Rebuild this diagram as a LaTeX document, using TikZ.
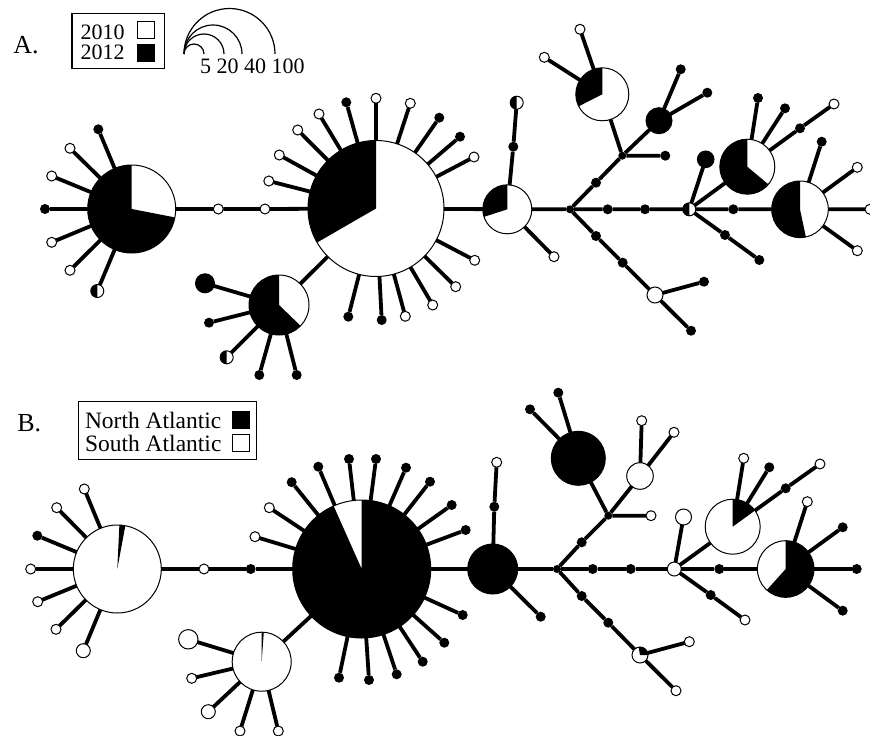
\documentclass[tikz,border=0pt]{standalone}
\usepackage{fontspec}
\setmainfont{Liberation Serif}
\newcommand\myLegFont{\fontsize{22}{24}\selectfont}
\newcommand\myLegFontB{\fontsize{23.5}{26}\selectfont}
\newcommand\myPanFont{\fontsize{26}{30}\selectfont}
\begin{document}
\begin{tikzpicture}[x=1pt,y=-1pt,
  edge/.style={line width=3.8pt},
  bd/.style={circle, fill=black, minimum size=10pt, inner sep=0pt, outer sep=0pt},
  jd/.style={circle, fill=black, minimum size=8pt, inner sep=0pt, outer sep=0pt},
  wd/.style={circle, draw=black, fill=white, line width=1pt, minimum size=10pt, inner sep=0pt, outer sep=0pt},
  hub/.style={circle, draw=black, fill=white, line width=1pt, inner sep=0pt, outer sep=0pt, minimum size=#1},
  bhub/.style={circle, draw=black, fill=black, line width=1pt, inner sep=0pt, outer sep=0pt, minimum size=#1},
  wedge/.style 2 args={path picture={\fill[black] (path picture bounding box.center) -- ++(#1:300pt) arc[start angle=#1, end angle=#2, radius=300pt] -- cycle;}},
  hd/.style={hub=13pt, wedge={90}{270}},
  txt/.style={inner sep=0pt, outer sep=0pt, anchor=base west},
  sq/.style={rectangle, draw=black, line width=1pt, minimum size=17pt, inner sep=0pt}
]
\useasboundingbox (0,0) rectangle (870,736);

% ================= Panel A legend =================
\node[txt, font=\myPanFont] (lblA) at (13.3,53.3) {A.};
\node[rectangle, draw=black, line width=1.2pt, minimum width=92.5pt, minimum height=55pt, inner sep=0pt] (legA) at (118.3,40.8) {};
\node[txt, font=\myLegFont] (y2010) at (80.5,39) {2010};
\node[txt, font=\myLegFont] (y2012) at (80.5,59.5) {2012};
\node[sq, fill=white] (sq2010) at (146.2,30.3) {};
\node[sq, fill=black] (sq2012) at (146.2,53.3) {};
\draw[line width=1.2pt] (184,54) arc[start angle=180, end angle=0, radius=10pt];
\draw[line width=1.2pt] (184,54) arc[start angle=180, end angle=0, radius=20pt];
\draw[line width=1.2pt] (184,54) arc[start angle=180, end angle=0, radius=29pt];
\draw[line width=1.2pt] (184,54) arc[start angle=180, end angle=0, radius=45.5pt];
\node[txt, font=\myLegFont] (sizes) at (200,73.3) {5 20 40 100};

% ================= Panel A nodes =================
\node[hub=88pt, wedge={90}{349}] (a1) at (131.7,209) {};
\node[hub=136pt, wedge={90}{210}] (a2) at (376,208.5) {};
\node[hub=60pt, wedge={90}{316}] (a3) at (279,305) {};
\node[hub=49pt, wedge={90}{198}] (a4) at (507.3,209.3) {};
\node[hub=53pt, wedge={90}{207}] (a5) at (602.3,94.3) {};
\node[bhub=26pt] (a6) at (659,120.7) {};
\node[hub=56.6pt, wedge={90}{282}] (a7) at (800,209.3) {};
\node[hub=55pt, wedge={90}{320}] (a8) at (747.3,166.7) {};
\node[bhub=16.6pt] (a9) at (705.7,159.3) {};
\node[hub=16pt] (a10) at (655,295) {};
\node[bhub=19pt] (a11) at (205,283.3) {};

\node[bd] (a1s1) at (98.3,129.3) {};
\node[wd] (a1s2) at (70,148.3) {};
\node[wd] (a1s3) at (51.7,176) {};
\node[bd] (a1s4) at (45,209) {};
\node[wd] (a1s5) at (51.7,242.3) {};
\node[wd] (a1s6) at (70,270.3) {};
\node[hd] (a1s7) at (97.3,291) {};
\node[wd] (ac1) at (218.3,209) {};
\node[wd] (ac2) at (265,209) {};

\node[wd] (a2s1) at (268.8,181) {};
\node[wd] (a2s2) at (279.3,155) {};
\node[wd] (a2s3) at (297.7,130) {};
\node[wd] (a2s4) at (319,114) {};
\node[bd] (a2s5) at (346.3,102.3) {};
\node[wd] (a2s6) at (376,98.3) {};
\node[wd] (a2s7) at (410.3,103.3) {};
\node[bd] (a2s8) at (439.3,117.7) {};
\node[bd] (a2s9) at (460,136.7) {};
\node[wd] (a2s10) at (474,157) {};
\node[wd] (a2s11) at (474.7,260.3) {};
\node[wd] (a2s12) at (455.7,286.7) {};
\node[wd] (a2s13) at (432.7,305) {};
\node[wd] (a2s14) at (405.3,316.3) {};
\node[bd] (a2s15) at (381.7,320) {};
\node[bd] (a2s16) at (348.3,316.7) {};

\node[bd] (a3s2) at (209,322.7) {};
\node[hd] (a3s3) at (226.7,357.3) {};
\node[bd] (a3s4) at (259.3,375) {};
\node[bd] (a3s5) at (296.7,375) {};

\node[bd] (a4u1) at (513.3,146.7) {};
\node[hd] (a4u2) at (516.7,102.7) {};
\node[wd] (a4d) at (554,256.7) {};
\node[jd] (aj1) at (570,209.3) {};
\node[bd] (au1) at (596,182.7) {};
\node[jd] (aj2) at (622.3,155.7) {};
\node[bd] (au2) at (665.3,155.7) {};
\node[wd] (a5s1) at (580,29.3) {};
\node[wd] (a5s2) at (544.3,57.3) {};
\node[bd] (a6s1) at (680.7,69.3) {};
\node[bd] (a6s2) at (707.3,92.7) {};
\node[bd] (am1) at (607.7,209.3) {};
\node[bd] (am2) at (645,209.3) {};
\node[hd] (am3) at (689.3,209.3) {};
\node[bd] (am4) at (733.3,209.3) {};
\node[wd] (am5) at (870,209.3) {};
\node[bd] (a7s1) at (821.7,141.7) {};
\node[wd] (a7s2) at (857.3,167.3) {};
\node[wd] (a7s3) at (857.3,250.7) {};
\node[bd] (ad1) at (725,235) {};
\node[bd] (ad2) at (759.3,260) {};
\node[bd] (a8s1) at (758,98) {};
\node[bd] (a8s2) at (785,108.3) {};
\node[bd] (a8s3) at (800,128.3) {};
\node[wd] (a8s4) at (834,104) {};
\node[bd] (al1) at (596,236) {};
\node[bd] (al2) at (622.7,262.7) {};
\node[bd] (al3) at (704,281.7) {};
\node[bd] (al4) at (691,330.7) {};

% ================= Panel A edges =================
\foreach \n in {a1s1,a1s2,a1s3,a1s4,a1s5,a1s6,a1s7} \draw[edge] (a1) -- (\n);
\draw[edge] (a1) -- (ac1) -- (ac2) -- (a2) -- (a4) -- (aj1) -- (am1) -- (am2) -- (am3) -- (am4) -- (a7) -- (am5);
\foreach \n in {a2s1,a2s2,a2s3,a2s4,a2s5,a2s6,a2s7,a2s8,a2s9,a2s10,a2s11,a2s12,a2s13,a2s14,a2s15,a2s16,a3} \draw[edge] (a2) -- (\n);
\foreach \n in {a11,a3s2,a3s3,a3s4,a3s5} \draw[edge] (a3) -- (\n);
\draw[edge] (a4) -- (a4u1) -- (a4u2);
\draw[edge] (a4) -- (a4d);
\draw[edge] (aj1) -- (au1) -- (aj2) -- (au2);
\draw[edge] (aj2) -- (a5);
\draw[edge] (aj2) -- (a6);
\draw[edge] (a5) -- (a5s1);
\draw[edge] (a5) -- (a5s2);
\draw[edge] (a6) -- (a6s1);
\draw[edge] (a6) -- (a6s2);
\foreach \n in {a7s1,a7s2,a7s3} \draw[edge] (a7) -- (\n);
\draw[edge] (am3) -- (a9);
\draw[edge] (am3) -- (a8);
\draw[edge] (am3) -- (ad1) -- (ad2);
\draw[edge] (a8) -- (a8s1);
\draw[edge] (a8) -- (a8s2);
\draw[edge] (a8) -- (a8s3) -- (a8s4);
\draw[edge] (aj1) -- (al1) -- (al2) -- (a10) -- (al3);
\draw[edge] (a10) -- (al4);

% ================= Panel B legend =================
\node[txt, font=\myPanFont] (lblB) at (17.3,431.7) {B.};
\node[rectangle, draw=black, line width=1.2pt, minimum width=178.4pt, minimum height=57.5pt, inner sep=0pt] (legB) at (167.5,430.6) {};
\node[txt, font=\myLegFontB] (north) at (85,428.5) {North Atlantic};
\node[txt, font=\myLegFontB] (south) at (85,451.3) {South Atlantic};
\node[sq, fill=black] (sqN) at (240.8,420) {};
\node[sq, fill=white] (sqS) at (240.8,443.3) {};

% ================= Panel B nodes =================
\node[hub=88pt, wedge={79.5}{87.3}] (b1) at (117.3,569) {};
\node[hub=138pt, wedge={114}{450}] (b2) at (361.7,569) {};
\node[hub=59pt, wedge={86}{90}] (b3) at (261.7,661.7) {};
\node[bhub=50pt] (b4) at (492.7,569) {};
\node[bhub=54pt] (b5) at (578.3,458.3) {};
\node[hub=26.6pt] (b6) at (640,476) {};
\node[hub=56.6pt, wedge={228}{450}] (b7) at (785.7,569) {};
\node[hub=55pt, wedge={36}{90}] (b8) at (732.7,526.7) {};
\node[hub=16pt] (b9) at (683.5,517) {};
\node[hub=16pt, wedge={0}{100}] (b10) at (640,655) {};
\node[hub=19.4pt] (b11) at (188.3,639.3) {};
\node[hub=14pt] (b12) at (208.3,711.7) {};
\node[hub=14pt] (b13) at (83.3,650.7) {};

\node[wd] (b1s1) at (84.3,489) {};
\node[wd] (b1s2) at (56.7,507.7) {};
\node[bd] (b1s3) at (37.3,535.7) {};
\node[wd] (b1s4) at (30.7,569) {};
\node[wd] (b1s5) at (37.7,601.7) {};
\node[wd] (b1s6) at (56,629.3) {};
\node[wd] (bc1) at (204,569) {};
\node[bd] (bc2) at (250.7,569) {};

\node[wd] (b2s1) at (255,536.7) {};
\node[wd] (b2s2) at (269.3,507.7) {};
\node[bd] (b2s3) at (291.7,482.2) {};
\node[bd] (b2s4) at (318.3,466.7) {};
\node[bd] (b2s5) at (349,459) {};
\node[bd] (b2s6) at (376,459) {};
\node[bd] (b2s7) at (406,467.7) {};
\node[bd] (b2s8) at (430,481.7) {};
\node[bd] (b2s9) at (451.7,505) {};
\node[bd] (b2s10) at (465.7,530) {};
\node[bd] (b2s11) at (462.7,615) {};
\node[bd] (b2s12) at (444.3,642.7) {};
\node[bd] (b2s13) at (422.7,661.7) {};
\node[bd] (b2s14) at (396.7,674.3) {};
\node[bd] (b2s15) at (369,680) {};
\node[bd] (b2s16) at (339,677.7) {};

\node[wd] (b3s2) at (191.7,678.3) {};
\node[wd] (b3s4) at (240,731) {};
\node[wd] (b3s5) at (278.3,731) {};

\node[bd] (b4u1) at (494.3,506.7) {};
\node[wd] (b4u2) at (496.7,462.3) {};
\node[bd] (b4d) at (540.7,616.7) {};
\node[jd] (bj1) at (557,569) {};
\node[bd] (bu1) at (581.7,542.3) {};
\node[jd] (bj2) at (608.3,515.7) {};
\node[wd] (bu2) at (651,515.7) {};
\node[bd] (b5s1) at (558.3,392.7) {};
\node[bd] (b5s2) at (530,409.3) {};
\node[wd] (b6s1) at (641.7,420.7) {};
\node[wd] (b6s2) at (674,432.3) {};
\node[bd] (bm1) at (592.7,569) {};
\node[bd] (bm2) at (630.7,569) {};
\node[hub=14pt] (bm3) at (674.3,569) {};
\node[bd] (bm4) at (719.3,569) {};
\node[bd] (bm5) at (856.7,569) {};
\node[wd] (b7s1) at (807.3,501.7) {};
\node[bd] (b7s2) at (842.7,527.3) {};
\node[bd] (b7s3) at (842.7,610.7) {};
\node[bd] (bd1) at (710.7,595) {};
\node[wd] (bd2) at (745,620) {};
\node[wd] (b8s1) at (743.7,458.3) {};
\node[bd] (b8s2) at (769.3,467.3) {};
\node[bd] (b8s3) at (785.7,488.3) {};
\node[wd] (b8s4) at (820,464) {};
\node[bd] (bl1) at (581.7,596) {};
\node[bd] (bl2) at (608.3,622.7) {};
\node[wd] (bl3) at (689.3,641.7) {};
\node[wd] (bl4) at (676,690.7) {};

% ================= Panel B edges =================
\foreach \n in {b1s1,b1s2,b1s3,b1s4,b1s5,b1s6,b13} \draw[edge] (b1) -- (\n);
\draw[edge] (b1) -- (bc1) -- (bc2) -- (b2) -- (b4) -- (bj1) -- (bm1) -- (bm2) -- (bm3) -- (bm4) -- (b7) -- (bm5);
\foreach \n in {b2s1,b2s2,b2s3,b2s4,b2s5,b2s6,b2s7,b2s8,b2s9,b2s10,b2s11,b2s12,b2s13,b2s14,b2s15,b2s16,b3} \draw[edge] (b2) -- (\n);
\foreach \n in {b11,b3s2,b12,b3s4,b3s5} \draw[edge] (b3) -- (\n);
\draw[edge] (b4) -- (b4u1) -- (b4u2);
\draw[edge] (b4) -- (b4d);
\draw[edge] (bj1) -- (bu1) -- (bj2) -- (bu2);
\draw[edge] (bj2) -- (b5);
\draw[edge] (bj2) -- (b6);
\draw[edge] (b5) -- (b5s1);
\draw[edge] (b5) -- (b5s2);
\draw[edge] (b6) -- (b6s1);
\draw[edge] (b6) -- (b6s2);
\foreach \n in {b7s1,b7s2,b7s3} \draw[edge] (b7) -- (\n);
\draw[edge] (bm3) -- (b9);
\draw[edge] (bm3) -- (b8);
\draw[edge] (bm3) -- (bd1) -- (bd2);
\draw[edge] (b8) -- (b8s1);
\draw[edge] (b8) -- (b8s2);
\draw[edge] (b8) -- (b8s3) -- (b8s4);
\draw[edge] (bj1) -- (bl1) -- (bl2) -- (b10) -- (bl3);
\draw[edge] (b10) -- (bl4);
\end{tikzpicture}
\end{document}
